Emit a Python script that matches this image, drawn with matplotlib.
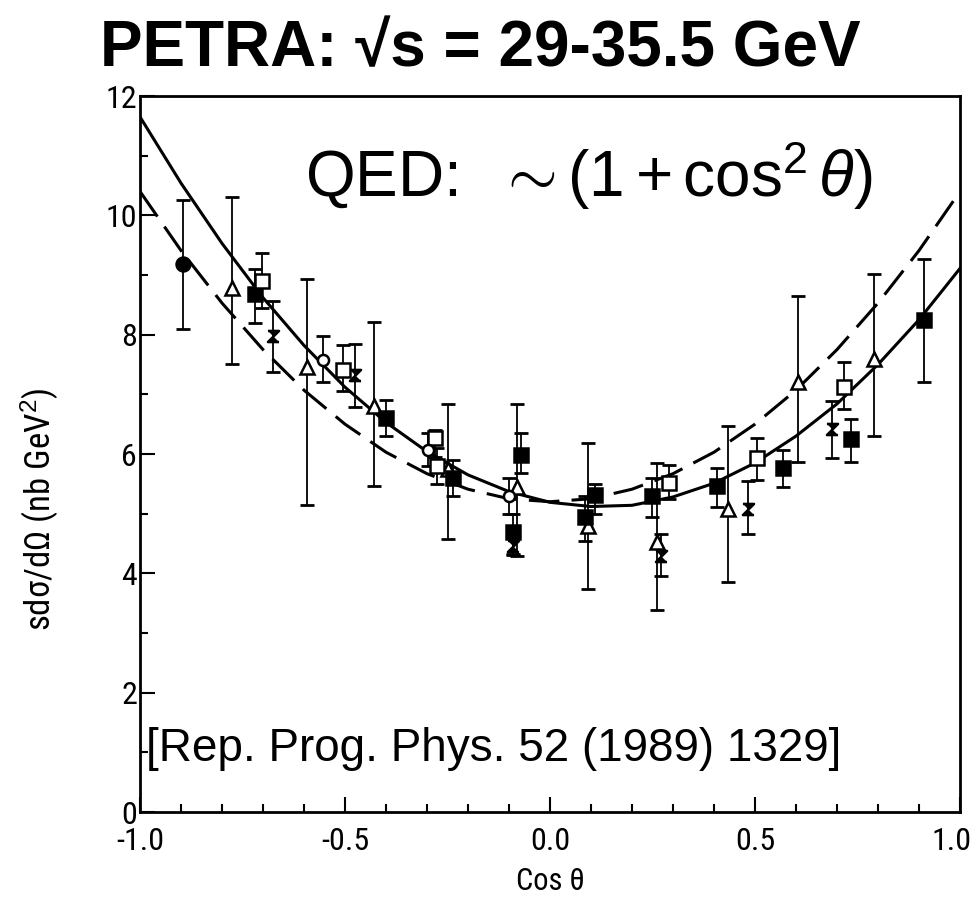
import numpy as np
import matplotlib
matplotlib.use("Agg")
import matplotlib.pyplot as plt
import matplotlib.transforms as mtransforms
from matplotlib import font_manager
from matplotlib.ticker import MultipleLocator

# QED curves (cos theta in steps of 0.1)
curve_x = [-1.0, -0.9, -0.8, -0.7, -0.6, -0.5, -0.4, -0.3, -0.2, -0.1, 0.0,
           0.1, 0.2, 0.3, 0.4, 0.5, 0.6, 0.7, 0.8, 0.9, 1.0]
qed_solid = [11.65, 10.54, 9.53, 8.62, 7.82, 7.12, 6.53, 6.04, 5.65, 5.37, 5.19,
             5.12, 5.14, 5.28, 5.51, 5.85, 6.30, 6.84, 7.50, 8.25, 9.11]
qed_dashed = [10.40, 9.41, 8.53, 7.75, 7.07, 6.50, 6.03, 5.67, 5.41, 5.25, 5.20,
              5.25, 5.41, 5.67, 6.03, 6.50, 7.07, 7.75, 8.53, 9.41, 10.40]

# data points: cos theta, value, lower end of error bar, upper end of error bar
circ_f_x = [-0.895]
circ_f_y = [9.19]
circ_f_lo = [8.10]
circ_f_hi = [10.25]

tri_x = [-0.776, -0.593, -0.43, -0.25, -0.08, 0.093, 0.261, 0.434, 0.605, 0.79]
tri_y = [8.78, 7.46, 6.80, 5.75, 5.45, 4.80, 4.53, 5.08, 7.20, 7.59]
tri_lo = [7.51, 5.14, 5.46, 4.58, 4.29, 3.73, 3.39, 3.85, 5.86, 6.31]
tri_hi = [10.31, 8.93, 8.22, 6.83, 6.83, 6.19, 5.85, 6.47, 8.64, 9.02]

sq_f_x = [-0.72, -0.40, -0.237, -0.07, -0.09, 0.11, 0.085, 0.249, 0.407, 0.568, 0.734, 0.912]
sq_f_y = [8.68, 6.61, 5.59, 5.98, 4.69, 5.31, 4.95, 5.29, 5.46, 5.76, 6.25, 8.24]
sq_f_lo = [8.19, 6.30, 5.30, 5.68, 4.32, 5.00, 4.54, 4.95, 5.12, 5.44, 5.86, 7.20]
sq_f_hi = [9.10, 6.90, 5.90, 6.36, 5.00, 5.50, 5.30, 5.60, 5.76, 6.07, 6.59, 9.27]

sq_o_x = [-0.702, -0.505, -0.28, -0.275, 0.29, 0.505, 0.717]
sq_o_y = [8.90, 7.41, 6.27, 5.80, 5.51, 5.93, 7.12]
sq_o_lo = [8.45, 7.05, 5.95, 5.50, 5.25, 5.56, 6.76]
sq_o_hi = [9.37, 7.83, 6.40, 6.10, 5.81, 6.27, 7.54]

circ_o_x = [-0.554, -0.298, -0.10]
circ_o_y = [7.58, 6.07, 5.30]
circ_o_lo = [7.20, 5.80, 5.00]
circ_o_hi = [7.97, 6.35, 5.60]

bow_x = [-0.676, -0.476, -0.09, 0.27, 0.483, 0.688]
bow_y = [7.97, 7.32, 4.46, 4.29, 5.08, 6.42]
bow_lo = [7.37, 6.78, 4.30, 3.95, 4.66, 5.93]
bow_hi = [8.56, 7.85, 4.70, 4.66, 5.54, 6.88]

BOWTIE = [(-1, 1), (1, 1), (-1, -1), (1, -1)]

# pick a narrow face for the scanned-looking axis text, if one is installed
installed = {f.name for f in font_manager.fontManager.ttflist}
narrow = "DejaVu Sans"
for cand in ["Liberation Sans Narrow", "DejaVu Sans Condensed", "Roboto Condensed",
             "Open Sans Condensed"]:
    if cand in installed:
        narrow = cand
        break
is_narrow = narrow != "DejaVu Sans"

plt.rcParams["mathtext.fontset"] = "custom"
plt.rcParams["mathtext.rm"] = "Liberation Sans"
plt.rcParams["mathtext.it"] = "Liberation Sans:italic"

fig = plt.figure(figsize=(9.76, 9.14), dpi=100)
ax = fig.add_axes([140 / 976, 1 - 812 / 914, 820 / 976, 716 / 914])

ax.plot(curve_x, qed_solid, color="black", lw=2.2, zorder=2)
ax.plot(curve_x, qed_dashed, color="black", lw=2.2, dashes=(10, 4), zorder=2)


def points(x, y, lo, hi, marker, face, ms):
    x = np.asarray(x)
    y = np.asarray(y)
    err = [y - np.asarray(lo), np.asarray(hi) - y]
    ax.errorbar(x, y, yerr=err, fmt="none", ecolor="black", elinewidth=1.3,
                capsize=5, capthick=2.0, zorder=3)
    ax.plot(x, y, ls="none", marker=marker, mfc=face, mec="black", mew=1.8,
            ms=ms, zorder=4)


points(tri_x, tri_y, tri_lo, tri_hi, "^", "white", 10)
points(circ_f_x, circ_f_y, circ_f_lo, circ_f_hi, "o", "black", 10)
points(sq_f_x, sq_f_y, sq_f_lo, sq_f_hi, "s", "black", 10)
points(sq_o_x, sq_o_y, sq_o_lo, sq_o_hi, "s", "white", 10)
points(circ_o_x, circ_o_y, circ_o_lo, circ_o_hi, "o", "white", 8)
points(bow_x, bow_y, bow_lo, bow_hi, BOWTIE, "black", 8)

ax.set_xlim(-1.0, 1.0)
ax.set_ylim(0, 12)
ax.xaxis.set_major_locator(MultipleLocator(0.5))
ax.xaxis.set_minor_locator(MultipleLocator(0.1))
ax.yaxis.set_major_locator(MultipleLocator(2))
ax.yaxis.set_minor_locator(MultipleLocator(1))
ax.tick_params(which="both", direction="in", width=1.5, top=False, right=False)
ax.tick_params(which="major", length=11)
ax.tick_params(which="minor", length=6)
ax.tick_params(axis="y", pad=2)
ax.tick_params(axis="x", pad=11)
ax.set_xticks([-1.0, -0.5, 0.0, 0.5, 1.0])
ax.set_xticklabels(["-1.0", "-0.5", "0.0", "0.5", "1.0"])
tick_size = 23 if is_narrow else 18
for lab in ax.get_xticklabels() + ax.get_yticklabels():
    lab.set_fontfamily([narrow, "DejaVu Sans"])
    lab.set_fontsize(tick_size)
# the last x label sits at the figure edge, nudge it inside
last = ax.get_xticklabels()[-1]
last.set_transform(last.get_transform()
                   + mtransforms.ScaledTranslation(-6 / 72, 0, fig.dpi_scale_trans))
for sp in ax.spines.values():
    sp.set_linewidth(2.0)

label_size = 25 if is_narrow else 21
ax.set_xlabel("Cos θ", fontsize=22 if is_narrow else 19, family=[narrow, "DejaVu Sans"])
ax.set_ylabel("sdσ/dΩ (nb GeV$^2$)", fontsize=label_size,
              family=[narrow, "DejaVu Sans"])
ax.xaxis.set_label_coords(0.5, -0.077)
ax.yaxis.set_label_coords(-0.098, 0.423)

ax.text(-0.598, 10.3, r"QED:  $\sim (1 + \mathrm{cos}^2\,\theta)$", fontsize=46,
        family="Liberation Sans", va="baseline", ha="left")
ax.text(-0.985, 0.85, "[Rep. Prog. Phys. 52 (1989) 1329]", fontsize=33,
        family="Liberation Sans", va="baseline", ha="left")

fig.text(480 / 976, 1 - 66 / 914, "PETRA: √s = 29-35.5 GeV", fontsize=46,
         fontweight="bold", family=["Liberation Sans", "DejaVu Sans"],
         ha="center", va="baseline")

fig.savefig("out.png", dpi=100)
